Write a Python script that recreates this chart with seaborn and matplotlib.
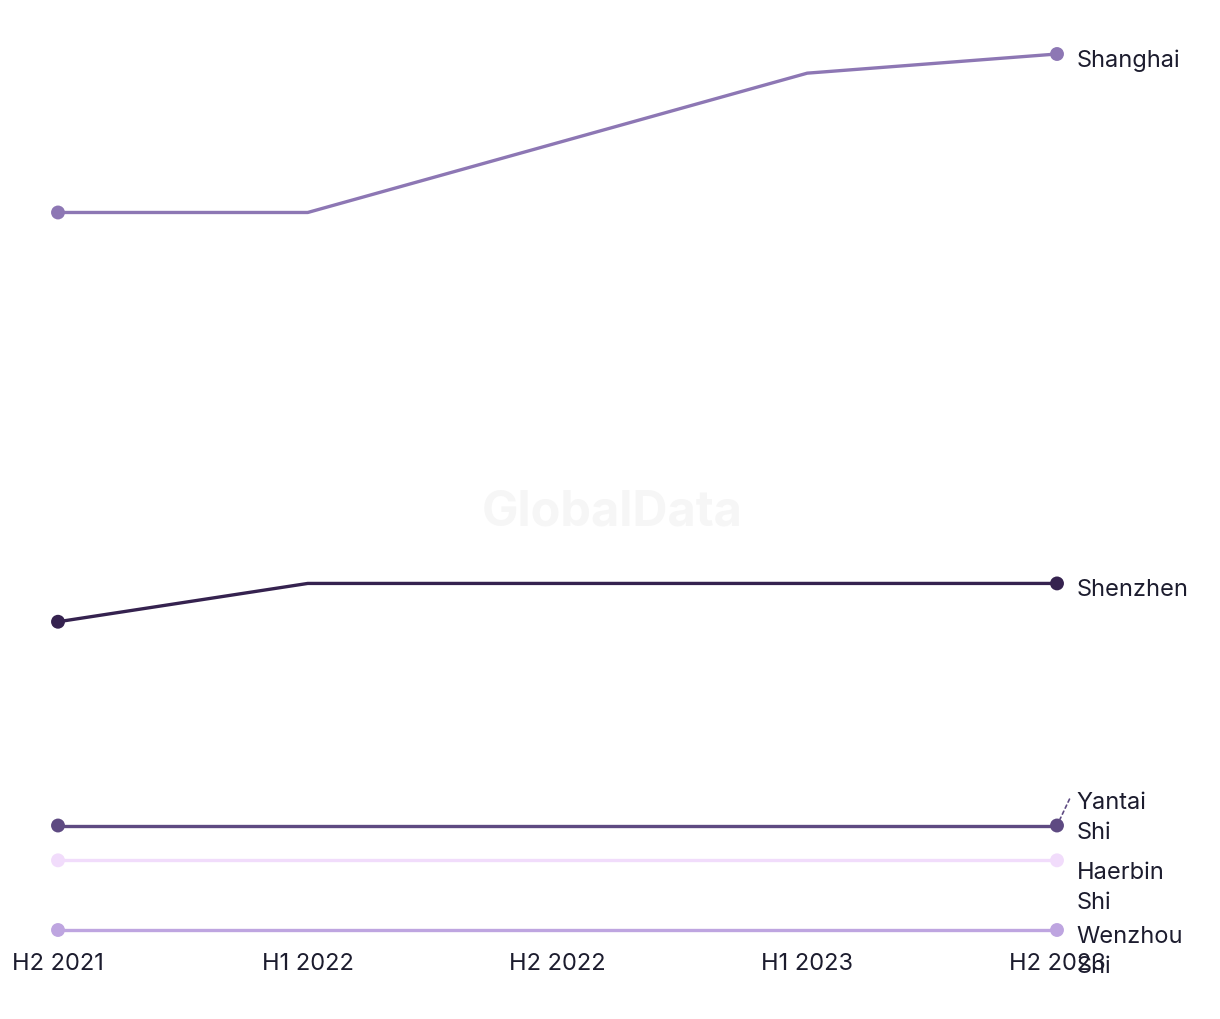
import matplotlib
matplotlib.use("Agg")
import matplotlib.pyplot as plt
import seaborn as sns
import pandas as pd

periods = ["H2 2021", "H1 2022", "H2 2022", "H1 2023", "H2 2023"]
shanghai = [21.6, 21.6, 23.6, 25.6, 26.15]
shenzhen = [9.85, 10.95, 10.95, 10.95, 10.95]
yantai = [4.0, 4.0, 4.0, 4.0, 4.0]
haerbin = [3.0, 3.0, 3.0, 3.0, 3.0]
wenzhou = [1.0, 1.0, 1.0, 1.0, 1.0]

series_names = ["Shanghai", "Shenzhen", "Yantai Shi", "Haerbin Shi", "Wenzhou Shi"]
series_vals = [shanghai, shenzhen, yantai, haerbin, wenzhou]
colors = ["#8d77b4", "#35224f", "#5e4a82", "#f1dcfb", "#bea5e0"]
# label offsets in points (x, y) relative to last point
label_offsets = [(14, -4), (14, -4), (14, 6), (14, -19), (14, -15)]
label_text = ["Shanghai", "Shenzhen", "Yantai\nShi", "Haerbin\nShi", "Wenzhou\nShi"]

rows = []
for name, vals in zip(series_names, series_vals):
    for i, (p, v) in enumerate(zip(periods, vals)):
        rows.append({"series": name, "period": p, "x": i, "value": v})
df = pd.DataFrame(rows)

sns.set_theme(style="white")
plt.rcParams["font.family"] = ["Inter", "DejaVu Sans"]

fig = plt.figure(figsize=(12.2, 10.2), dpi=100)
ax = fig.add_axes([58 / 1220, 1 - 931 / 1020, (1057 - 58) / 1220, (931 - 55) / 1020])

palette = dict(zip(series_names, colors))
sns.lineplot(data=df, x="x", y="value", hue="series", palette=palette,
             linewidth=2.4, legend=False, ax=ax, clip_on=False)
ends = df[(df["x"] == 0) | (df["x"] == len(periods) - 1)]
sns.scatterplot(data=ends, x="x", y="value", hue="series", palette=palette,
                s=100, edgecolor="none", legend=False, ax=ax, clip_on=False, zorder=5)

ax.set_xlim(0, len(periods) - 1)
ax.set_ylim(1.0, 26.15)
ax.set_xticks(range(len(periods)))
ax.set_xticklabels(periods, fontsize=17, color="#1c1c2e")
ax.tick_params(axis="x", length=0, pad=16)
ax.set_yticks([])
ax.set_xlabel("")
ax.set_ylabel("")
for s in ax.spines.values():
    s.set_visible(False)

last = len(periods) - 1
for name, vals, txt, off in zip(series_names, series_vals, label_text, label_offsets):
    ax.annotate(txt, xy=(last, vals[-1]), xytext=off, textcoords="offset points",
                ha="left", va="center", fontsize=17, color="#1c1c2e",
                linespacing=1.45, annotation_clip=False)

# dashed leader for Yantai Shi
ax.annotate("", xy=(last, yantai[-1]), xytext=(9, 19), textcoords="offset points",
            arrowprops=dict(arrowstyle="-", linestyle=(0, (2, 2)), color="#5e4a82",
                            lw=1.2, shrinkA=0, shrinkB=5), annotation_clip=False)

fig.text(612 / 1220, 1 - 512 / 1020, "GlobalData", ha="center", va="center",
         fontsize=35, fontweight="bold", color="#f6f6f6", zorder=0)

fig.savefig("out.png", dpi=100, facecolor="white")
